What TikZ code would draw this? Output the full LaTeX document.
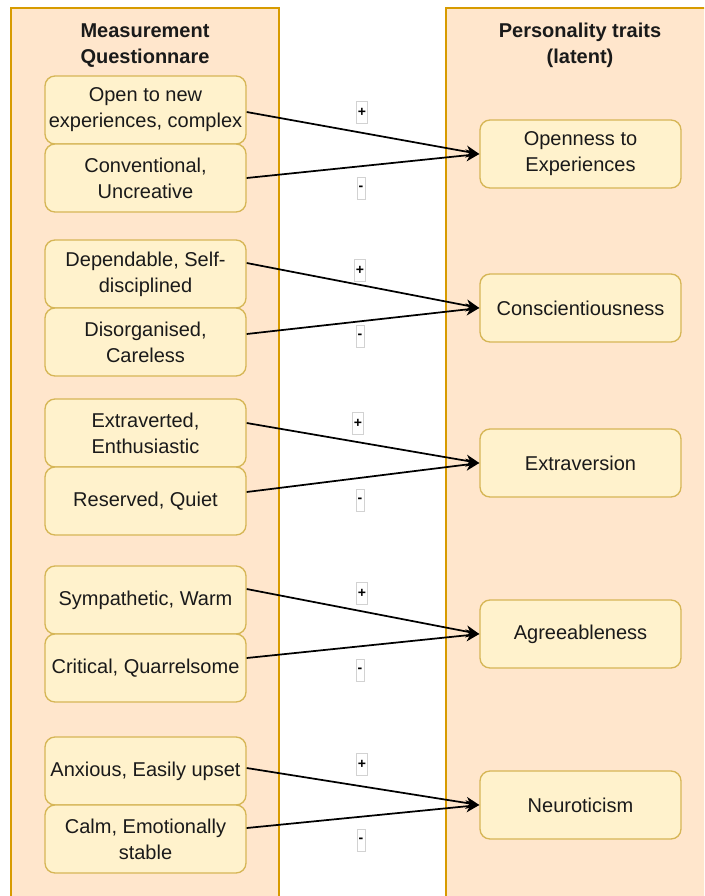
\documentclass[tikz,border=0pt]{standalone}
\usepackage{fontspec}
\setmainfont{Liberation Sans}
\usetikzlibrary{arrows.meta}

\definecolor{panelfill}{HTML}{FFE6CC}
\definecolor{paneledge}{HTML}{D79B00}
\definecolor{itemfill}{HTML}{FFF2CC}
\definecolor{itemedge}{HTML}{D6B656}
\definecolor{ink}{HTML}{1A1A1A}

\tikzset{
  panel/.style={fill=panelfill, draw=paneledge, line width=1pt},
  title/.style={align=center, text=ink, font=\fontsize{15}{19.5}\selectfont\bfseries},
  item/.style={rectangle, rounded corners=7.5pt, fill=itemfill, draw=itemedge,
    line width=1pt, minimum width=150.75pt, minimum height=51pt, inner sep=0pt,
    align=center, text=ink, font=\fontsize{15}{19.5}\selectfont},
  link/.style={-{Stealth[length=10pt, width=9pt, inset=3pt]}, line width=1.3pt},
  sign/.style={fill=white, draw=gray!35, line width=0.5pt, inner xsep=1.2pt,
    inner ysep=0pt, minimum height=16.5pt, font=\fontsize{10.5}{10.5}\selectfont\bfseries},
}

\begin{document}
\begin{tikzpicture}[x=0.75pt, y=-0.75pt]
\useasboundingbox (0,0) rectangle (704,896);
\clip (0,0) rectangle (704,896);

% containers
\draw[panel] (11,8) rectangle (279,910);
\draw[panel] (446,8) rectangle (714,910);
\node[title] (qhead) at (145,45.5) {Measurement\\Questionnare};
\node[title] (thead) at (580,45.5) {Personality traits\\(latent)};

% questionnaire items
\node[item] (q1) at (145.5,110) {Open to new\\experiences, complex};
\node[item] (q2) at (145.5,178) {Conventional,\\Uncreative};
\node[item] (q3) at (145.5,274) {Dependable, Self-\\disciplined};
\node[item] (q4) at (145.5,342) {Disorganised,\\Careless};
\node[item] (q5) at (145.5,433) {Extraverted,\\Enthusiastic};
\node[item] (q6) at (145.5,501) {Reserved, Quiet};
\node[item] (q7) at (145.5,600) {Sympathetic, Warm};
\node[item] (q8) at (145.5,668) {Critical, Quarrelsome};
\node[item] (q9) at (145.5,771) {Anxious, Easily upset};
\node[item] (q10) at (145.5,839) {Calm, Emotionally\\stable};

% latent traits
\node[item] (t1) at (580.5,154) {Openness to\\Experiences};
\node[item] (t2) at (580.5,308) {Conscientiousness};
\node[item] (t3) at (580.5,463) {Extraversion};
\node[item] (t4) at (580.5,634) {Agreeableness};
\node[item] (t5) at (580.5,805) {Neuroticism};

% loadings
\draw[link] ([yshift=-1.5pt]q1.east) -- (t1.west);
\draw[link] (q2.east) -- (t1.west);
\draw[link] ([yshift=8.25pt]q3.east) -- (t2.west);
\draw[link] ([yshift=6pt]q4.east) -- (t2.west);
\draw[link] ([yshift=7.5pt]q5.east) -- (t3.west);
\draw[link] ([yshift=6.75pt]q6.east) -- (t3.west);
\draw[link] ([yshift=8.25pt]q7.east) -- (t4.west);
\draw[link] ([yshift=7.5pt]q8.east) -- (t4.west);
\draw[link] ([yshift=2.25pt]q9.east) -- (t5.west);
\draw[link] ([yshift=8.25pt]q10.east) -- (t5.west);

% signs
\node[sign] (p1) at (362,112) {+};
\node[sign] (m1) at (361,188) {-};
\node[sign] (p2) at (360,270) {+};
\node[sign] (m2) at (360,336) {-};
\node[sign] (p3) at (358,423) {+};
\node[sign] (m3) at (360,500) {-};
\node[sign] (p4) at (362,593) {+};
\node[sign] (m4) at (360,670) {-};
\node[sign] (p5) at (362,764) {+};
\node[sign] (m5) at (361,840) {-};
\end{tikzpicture}
\end{document}
